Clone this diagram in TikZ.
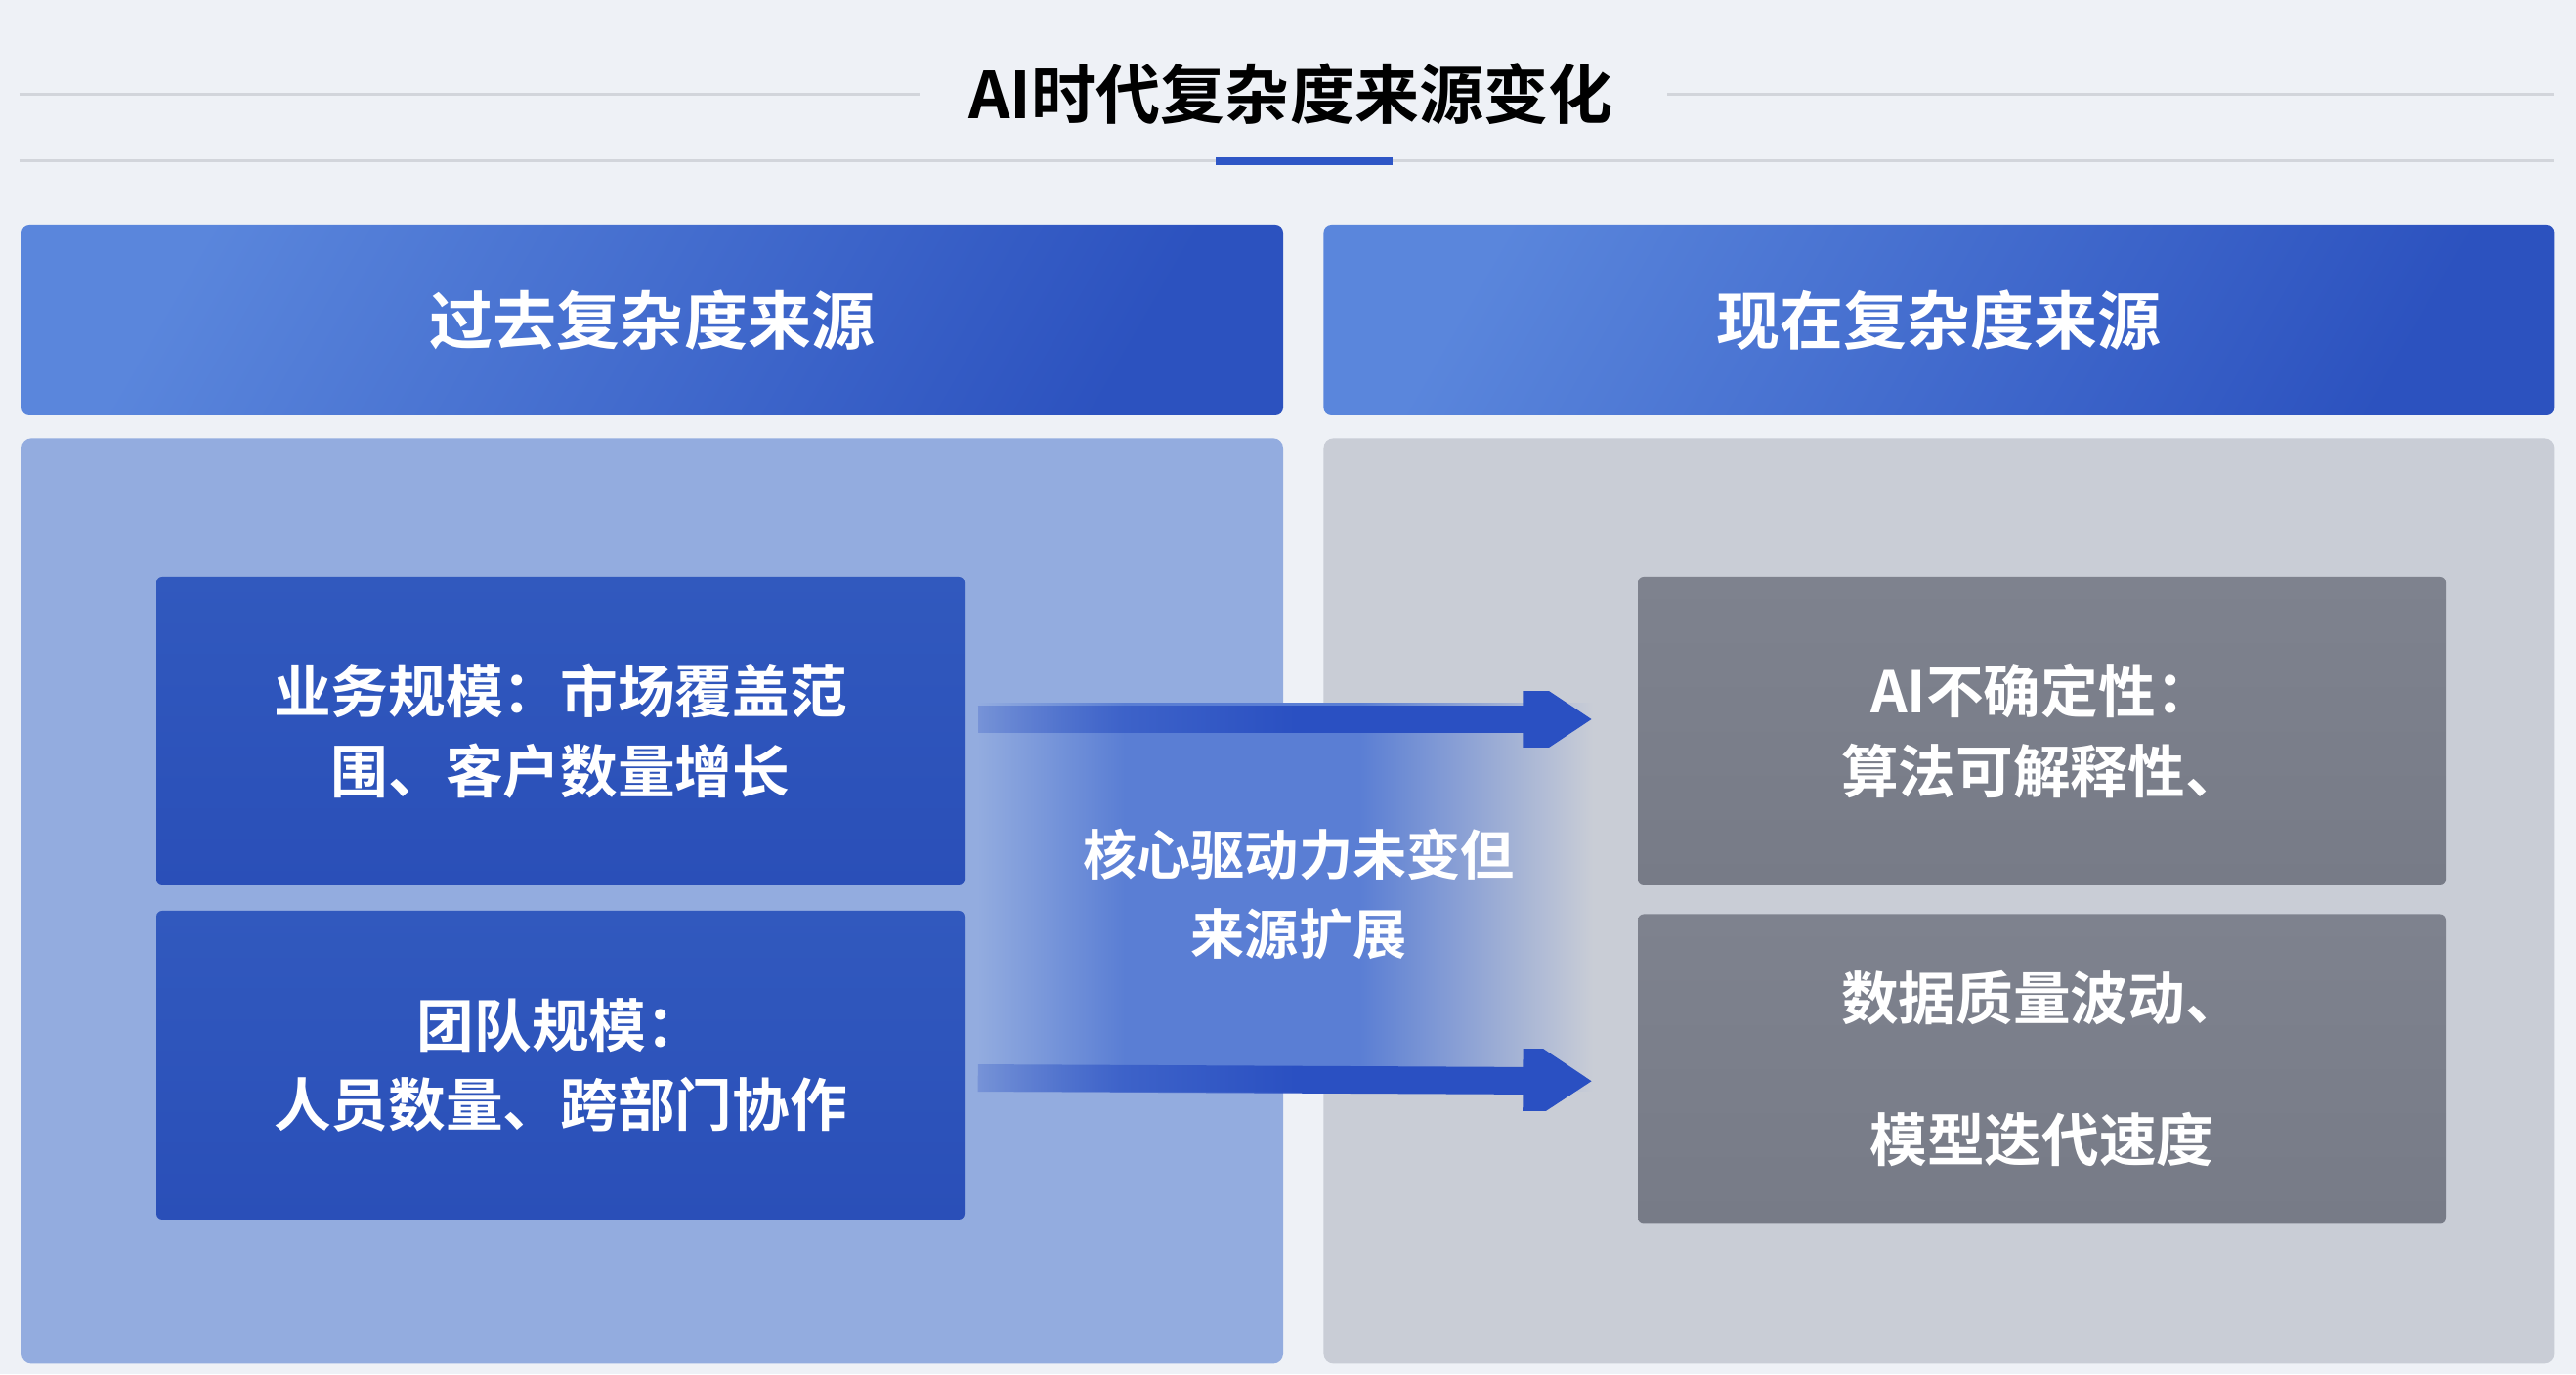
\documentclass[tikz,border=0pt]{standalone}
\usepackage{fontspec}
\setmainfont{Noto Sans CJK SC}[BoldFont={Noto Sans CJK SC Bold}]
\usepackage{tikz}
\usetikzlibrary{positioning}
\usetikzlibrary{arrows.meta}
\usetikzlibrary{fadings}
\definecolor{bgcol}{HTML}{EEF1F6}
\definecolor{rulecol}{HTML}{D2D5DB}
\definecolor{accent}{HTML}{2E56C6}
\definecolor{headA}{HTML}{5A86DC}
\definecolor{headB}{HTML}{2C52BF}
\definecolor{panelblue}{HTML}{93ACDF}
\definecolor{panelgray}{HTML}{C9CDD6}
\definecolor{pastA}{HTML}{3159BE}
\definecolor{pastB}{HTML}{2A4FB8}
\definecolor{nowA}{HTML}{7E828E}
\definecolor{nowB}{HTML}{777B87}
\definecolor{bandblue}{HTML}{5A7ED4}
\definecolor{flowblue}{HTML}{2A50C2}
\tikzfading[name=flowfade, left color=transparent!80, right color=transparent!0, middle color=transparent!0]
\pgfdeclarehorizontalshading{bandshade}{100bp}{color(0bp)=(panelblue); color(25bp)=(panelblue); color(37bp)=(bandblue); color(56bp)=(bandblue); color(75bp)=(panelgray); color(100bp)=(panelgray)}

\begin{document}
\begin{tikzpicture}[
  head/.style={rectangle, rounded corners=0.08cm, inner sep=0, minimum width=12.91cm, minimum height=1.95cm, top color=headA, bottom color=headB, shading angle=60, text=white, font=\fontsize{18.5}{22}\selectfont\bfseries},
  panel/.style={rectangle, rounded corners=0.1cm, inner sep=0, minimum width=12.91cm, minimum height=9.47cm},
  pastbox/.style={rectangle, rounded corners=0.06cm, minimum width=8.27cm, minimum height=3.16cm, top color=pastA, bottom color=pastB, text=white, align=center, font=\fontsize{16.7}{23.3}\selectfont\bfseries},
  nowbox/.style={pastbox, top color=nowA, bottom color=nowB},
  flow/.style={line width=0.28cm, draw=flowblue, shorten <=0.13cm, shorten >=0.46cm, -{Triangle[width=0.88cm,length=0.71cm]}, path fading=flowfade},
]
\useasboundingbox (0,0) rectangle (26.36,14.06);
\fill[bgcol] (0,0) rectangle (26.36,14.06);
% -- title --
\draw[rulecol, line width=0.03cm] (0.20,13.09) -- (9.41,13.09);
\draw[rulecol, line width=0.03cm] (17.06,13.09) -- (26.13,13.09);
\draw[rulecol, line width=0.03cm] (0.20,12.41) -- (26.13,12.41);
\fill[accent] (12.44,12.37) rectangle (14.25,12.45);
\node[font=\fontsize{18.8}{22}\selectfont\bfseries] (ttl) at (13.21,13.10) {AI时代复杂度来源变化};
% -- headers --
\node[head] (pasthead) at (6.675,10.785) {过去复杂度来源};
\node[head, minimum width=12.59cm, right=0.4cm of pasthead] (nowhead) {现在复杂度来源};
% -- panels --
\node[panel, fill=panelblue, below=0.22cm of pasthead] (pastpanel) {};
\node[panel, minimum width=12.59cm, fill=panelgray, below=0.22cm of nowhead] (nowpanel) {};
% -- past boxes --
\node[pastbox] (past1) at (5.735,6.58) {业务规模：市场覆盖范\\围、客户数量增长};
\node[pastbox] (past2) at (5.735,3.16) {团队规模：\\人员数量、跨部门协作};
% -- now boxes --
\node[nowbox] (now1) at (20.895,6.58) {AI不确定性：\\算法可解释性、};
\node[nowbox] (now2) at (20.895,3.125) {数据质量波动、\\[0.64cm]模型迭代速度};
% -- middle band and arrows --
\node[rectangle, inner sep=0, minimum width=6.3cm, minimum height=3.97cm, shading=bandshade] (band) at (13.15,4.875) {};
\draw[flow] ([yshift=0.12cm]past1.east) -- ([yshift=0.12cm]now1.west);
\draw[flow] ([yshift=-0.13cm]past2.east) -- ([yshift=-0.13cm]now2.west);
\node[text=white, align=center, font=\fontsize{15.7}{22.8}\selectfont\bfseries] (core) at (13.29,4.91) {核心驱动力未变但\\来源扩展};
\end{tikzpicture}
\end{document}
